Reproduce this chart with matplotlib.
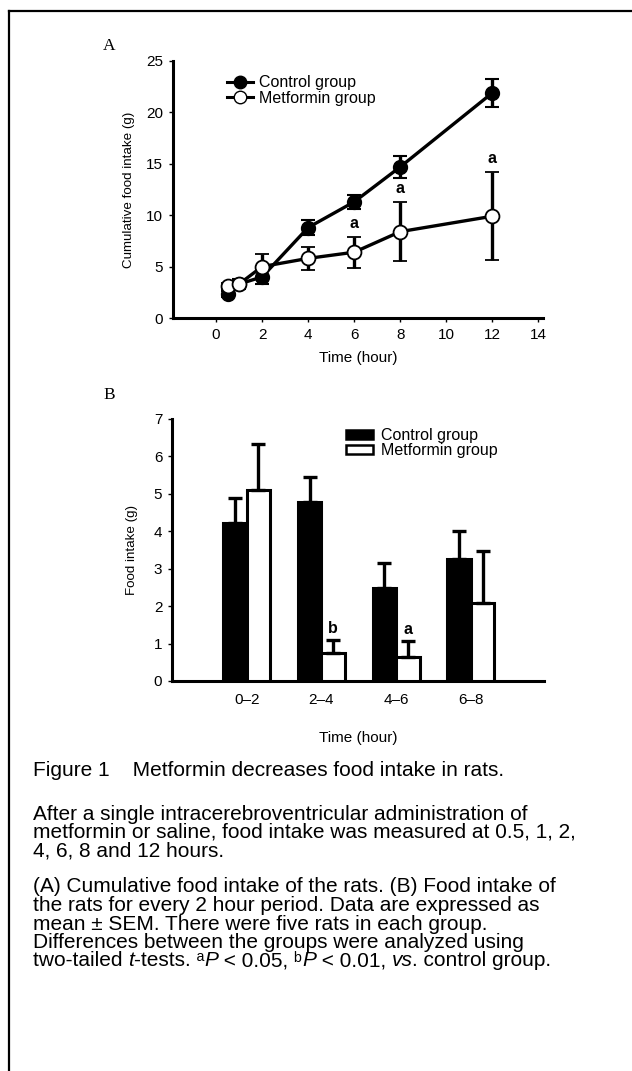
import matplotlib
matplotlib.use("Agg")
import matplotlib.pyplot as plt
import numpy as np
from matplotlib.lines import Line2D
from matplotlib.patches import Patch

plt.rcParams['font.family'] = ['Liberation Sans', 'DejaVu Sans']

# ---- Panel A data ----
time_h = [0.5, 1, 2, 4, 6, 8, 12]
control_cum = [2.3, 3.3, 4.0, 8.8, 11.3, 14.7, 21.9]
control_cum_err = [0.3, 0.5, 0.7, 0.7, 0.7, 1.1, 1.35]
metformin_cum = [3.1, 3.3, 5.0, 5.8, 6.4, 8.4, 9.9]
metformin_cum_err = [0.3, 0.4, 1.2, 1.1, 1.5, 2.9, 4.3]
sig_a_times = [6, 8, 12]
sig_a_labels = ['a', 'a', 'a']
xticks_a = [0, 2, 4, 6, 8, 10, 12, 14]
yticks_a = [0, 5, 10, 15, 20, 25]

# ---- Panel B data ----
periods = ['0–2', '2–4', '4–6', '6–8']
control_bar = [4.22, 4.78, 2.48, 3.25]
control_bar_err = [0.68, 0.68, 0.68, 0.76]
metformin_bar = [5.10, 0.74, 0.65, 2.08]
metformin_bar_err = [1.24, 0.36, 0.43, 1.40]
sig_b = ['', 'b', 'a', '']
yticks_b = [0, 1, 2, 3, 4, 5, 6, 7]

caption_title = "Figure 1    Metformin decreases food intake in rats."
caption_p1 = ["After a single intracerebroventricular administration of",
              "metformin or saline, food intake was measured at 0.5, 1, 2,",
              "4, 6, 8 and 12 hours."]
caption_p2 = ["(A) Cumulative food intake of the rats. (B) Food intake of",
              "the rats for every 2 hour period. Data are expressed as",
              "mean ± SEM. There were five rats in each group.",
              "Differences between the groups were analyzed using"]
# last line as (text, italic?) pieces
caption_last = [("two-tailed ", False), ("t", True), ("-tests. ᵃ", False), ("P", True),
                (" < 0.05, ᵇ", False), ("P", True), (" < 0.01, ", False),
                ("vs", True), (". control group.", False)]

W, H = 632, 1071
fig = plt.figure(figsize=(W / 100, H / 100), dpi=100)
renderer = fig.canvas.get_renderer()

def fx(px):
    return px / W

def fy(py):
    return 1 - py / H

# frame lines (top and left)
fig.add_artist(Line2D([fx(9), 1.0], [fy(11), fy(11)], color='black', lw=1.6))
fig.add_artist(Line2D([fx(9), fx(9)], [fy(11), 0.0], color='black', lw=1.6))

tick_fs = 11
lab_fs = 11
leg_fs = 11.5

# ---------------- Panel A ----------------
axA = fig.add_axes([fx(173), fy(318), fx(543) - fx(173), fy(61) - fy(318)])
axA.errorbar(time_h, control_cum, yerr=control_cum_err, color='black', lw=2.4,
             marker='o', ms=9.5, mfc='black', mec='black', mew=1.5,
             elinewidth=2.4, capsize=4.8, capthick=2.4, zorder=3)
axA.errorbar(time_h, metformin_cum, yerr=metformin_cum_err, color='black', lw=2.4,
             marker='o', ms=10, mfc='white', mec='black', mew=1.3,
             elinewidth=2.4, capsize=4.8, capthick=2.4, zorder=4)
for t, lab in zip(sig_a_times, sig_a_labels):
    i = time_h.index(t)
    axA.text(t, metformin_cum[i] + metformin_cum_err[i] + 0.6, lab, ha='center',
             va='bottom', fontsize=11.5, fontweight='bold')
axA.set_xlim(-1.87, 14.2)
axA.set_ylim(0, 25)
axA.set_xticks(xticks_a)
axA.set_yticks(yticks_a)
for s in ['top', 'right']:
    axA.spines[s].set_visible(False)
for s in ['left', 'bottom']:
    axA.spines[s].set_linewidth(2.2)
axA.tick_params(labelsize=tick_fs, length=3, width=1, pad=4)
axA.set_xlabel('Time (hour)', fontsize=lab_fs, labelpad=7)
axA.set_ylabel('Cumulative food intake (g)', fontsize=9.6, labelpad=8)
hA = [Line2D([], [], color='black', lw=2.2, marker='o', ms=9, mfc='black', mec='black'),
      Line2D([], [], color='black', lw=2.2, marker='o', ms=9, mfc='white', mec='black')]
axA.legend(hA, ['Control group', 'Metformin group'], loc='upper left',
           bbox_to_anchor=(0.125, 0.975), frameon=False, fontsize=leg_fs,
           handlelength=1.6, handletextpad=0.4, labelspacing=0.02, borderpad=0)
fig.text(fx(103), fy(46), 'A', family='Liberation Serif', fontsize=12.5, ha='left', va='center')

# ---------------- Panel B ----------------
axB = fig.add_axes([fx(172), fy(681), fx(544) - fx(172), fy(419) - fy(681)])
x = np.arange(len(periods))
bw = 0.315
axB.bar(x - bw / 2, control_bar, bw, color='black', edgecolor='black', lw=2.2,
        yerr=[np.zeros(len(x)), control_bar_err],
        error_kw=dict(elinewidth=2.4, capsize=4.8, capthick=2.4, ecolor='black'), zorder=3)
axB.bar(x + bw / 2, metformin_bar, bw, color='white', edgecolor='black', lw=2.2,
        yerr=[np.zeros(len(x)), metformin_bar_err],
        error_kw=dict(elinewidth=2.4, capsize=4.8, capthick=2.4, ecolor='black'), zorder=3)
for i, lab in enumerate(sig_b):
    if lab:
        axB.text(x[i] + bw / 2, metformin_bar[i] + metformin_bar_err[i] + 0.1, lab,
                 ha='center', va='bottom', fontsize=11.5, fontweight='bold')
axB.set_xlim(-1.0, 3.98)
axB.set_ylim(0, 7)
axB.set_xticks(x)
axB.set_xticklabels(periods)
axB.set_yticks(yticks_b)
for s in ['top', 'right']:
    axB.spines[s].set_visible(False)
for s in ['left', 'bottom']:
    axB.spines[s].set_linewidth(2.2)
axB.tick_params(axis='y', labelsize=tick_fs, length=3, width=1, pad=4)
axB.tick_params(axis='x', labelsize=tick_fs, length=0, pad=9)
axB.set_xlabel('Time (hour)', fontsize=lab_fs, labelpad=17)
axB.set_ylabel('Food intake (g)', fontsize=9.6, labelpad=11)
hB = [Patch(facecolor='black', edgecolor='black', lw=1.8),
      Patch(facecolor='white', edgecolor='black', lw=1.8)]
axB.legend(hB, ['Control group', 'Metformin group'], loc='upper left',
           bbox_to_anchor=(0.447, 0.995), frameon=False, fontsize=leg_fs,
           handlelength=1.7, handleheight=0.55, handletextpad=0.45,
           labelspacing=0.0, borderpad=0)
fig.text(fx(103), fy(395), 'B', family='Liberation Serif', fontsize=12.5, ha='left', va='center')

# ---------------- Caption ----------------
cap_fs = 15
x_cap = 33
fig.text(fx(x_cap), fy(770), caption_title, fontsize=cap_fs, ha='left', va='center')
y0 = 814
for i, line in enumerate(caption_p1):
    fig.text(fx(x_cap), fy(y0 + i * 18.5), line, fontsize=cap_fs, ha='left', va='center')
y0 = 887
for i, line in enumerate(caption_p2):
    fig.text(fx(x_cap), fy(y0 + i * 18.5), line, fontsize=cap_fs, ha='left', va='center')

def width_px(s):
    t = fig.text(0, 0, s + "x", fontsize=cap_fs)
    w1 = t.get_window_extent(renderer).width
    t.set_text("x")
    w2 = t.get_window_extent(renderer).width
    t.remove()
    return w1 - w2

y_last = y0 + len(caption_p2) * 18.5
prefix = ""
for piece, ital in caption_last:
    xp = x_cap + width_px(prefix) if prefix else x_cap
    fig.text(fx(xp), fy(y_last), piece, fontsize=cap_fs, ha='left', va='baseline',
             fontstyle='italic' if ital else 'normal',
             transform=fig.transFigure).set_y(fy(y_last) - 5.3 / H)
    prefix += piece

fig.savefig('out.png', dpi=100)
